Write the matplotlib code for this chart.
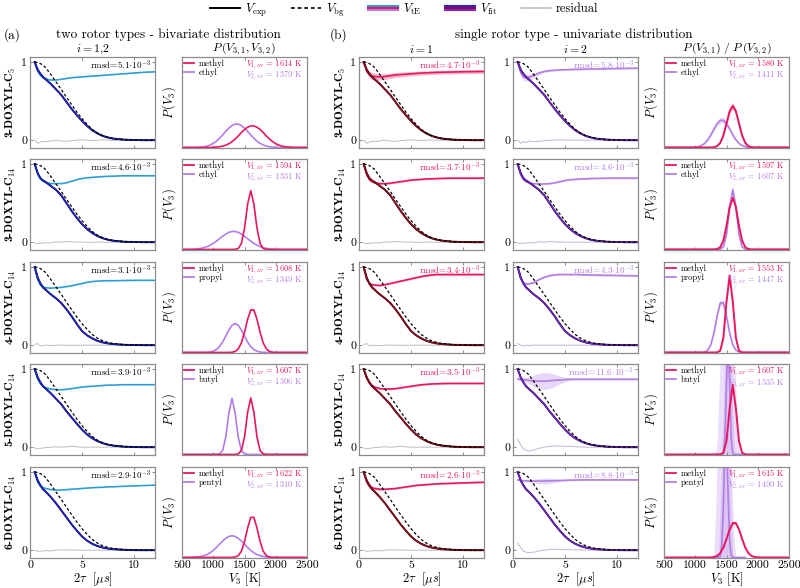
import matplotlib
matplotlib.use("Agg")

import matplotlib.pyplot as plt
import numpy as np
from matplotlib.legend_handler import HandlerBase
from matplotlib.lines import Line2D

plt.rcParams.update({
    "font.family": ["cmr10", "DejaVu Serif"],
    "mathtext.fontset": "cm",
    "axes.unicode_minus": False,
    "axes.formatter.use_mathtext": True,
})

# ---- data ------------------------------------------------------------------
ROW_LABELS = ["3-DOXYL-C$_\\mathbf{5}$", "3-DOXYL-C$_\\mathbf{14}$", "4-DOXYL-C$_\\mathbf{14}$",
              "5-DOXYL-C$_\\mathbf{14}$", "6-DOXYL-C$_\\mathbf{14}$"]
OTHER = ["ethyl", "ethyl", "propyl", "butyl", "pentyl"]
RMSD_A = [5.1, 4.6, 3.1, 3.9, 2.9]
RMSD_B1 = [4.7, 3.7, 3.4, 3.5, 2.6]
RMSD_B2 = [5.8, 4.6, 4.3, 11.6, 8.8]
V1_A = [1614, 1594, 1608, 1607, 1622]
V2_A = [1379, 1331, 1349, 1306, 1310]
V1_B = [1580, 1597, 1553, 1607, 1615]
V2_B = [1411, 1607, 1447, 1535, 1490]

# time axis (2 tau, us)
T_US = [0.45, 0.75, 1.0, 1.25, 1.5, 2.0, 2.5, 3.0, 3.5, 4.0, 4.5, 5.0, 5.5, 6.0, 6.5,
        7.0, 7.5, 8.0, 9.0, 10.0, 11.0, 12.0]

VBG = [1.0, 0.995, 0.98, 0.96, 0.93, 0.84, 0.745, 0.65, 0.55, 0.455, 0.36, 0.275, 0.2,
       0.135, 0.088, 0.055, 0.034, 0.02, 0.007, 0.002, 0.0, 0.0]

VEXP = [
    [1.0, 0.9, 0.85, 0.81, 0.78, 0.72, 0.65, 0.58, 0.49, 0.40, 0.32, 0.245, 0.18, 0.125,
     0.085, 0.054, 0.034, 0.02, 0.007, 0.002, 0.0, 0.0],
    [1.0, 0.88, 0.82, 0.79, 0.77, 0.72, 0.67, 0.60, 0.50, 0.40, 0.31, 0.23, 0.165, 0.115,
     0.077, 0.05, 0.031, 0.019, 0.006, 0.002, 0.0, 0.0],
    [1.0, 0.86, 0.79, 0.74, 0.71, 0.65, 0.60, 0.54, 0.46, 0.37, 0.27, 0.18, 0.125, 0.085,
     0.055, 0.035, 0.022, 0.014, 0.005, 0.002, 0.0, 0.0],
    [1.0, 0.89, 0.83, 0.78, 0.75, 0.69, 0.62, 0.55, 0.46, 0.38, 0.30, 0.225, 0.16, 0.112,
     0.076, 0.05, 0.032, 0.02, 0.007, 0.002, 0.0, 0.0],
    [1.0, 0.89, 0.83, 0.78, 0.75, 0.68, 0.60, 0.51, 0.42, 0.33, 0.25, 0.175, 0.12, 0.08,
     0.052, 0.033, 0.021, 0.013, 0.005, 0.001, 0.0, 0.0],
]

# intramolecular form factor, panel (a)
VTE_A = [
    [1.0, 0.88, 0.83, 0.80, 0.785, 0.77, 0.77, 0.78, 0.79, 0.80, 0.805, 0.81, 0.815, 0.82,
     0.825, 0.83, 0.835, 0.84, 0.85, 0.86, 0.87, 0.875],
    [1.0, 0.87, 0.81, 0.78, 0.765, 0.75, 0.75, 0.75, 0.76, 0.78, 0.80, 0.815, 0.825, 0.83,
     0.835, 0.84, 0.843, 0.845, 0.85, 0.85, 0.85, 0.85],
    [1.0, 0.84, 0.77, 0.745, 0.735, 0.73, 0.735, 0.74, 0.75, 0.76, 0.775, 0.79, 0.805, 0.815,
     0.82, 0.825, 0.825, 0.825, 0.828, 0.83, 0.83, 0.83],
    [1.0, 0.87, 0.81, 0.78, 0.76, 0.745, 0.735, 0.735, 0.74, 0.75, 0.76, 0.77, 0.775, 0.78,
     0.785, 0.79, 0.795, 0.795, 0.80, 0.80, 0.80, 0.80],
    [1.0, 0.87, 0.82, 0.80, 0.79, 0.775, 0.77, 0.77, 0.775, 0.78, 0.785, 0.79, 0.795, 0.80,
     0.803, 0.806, 0.81, 0.812, 0.818, 0.823, 0.828, 0.833],
]
# panel (b), i = 1
VTE_B1 = [
    [1.0, 0.88, 0.84, 0.82, 0.815, 0.81, 0.815, 0.825, 0.835, 0.84, 0.845, 0.85, 0.855, 0.86,
     0.862, 0.865, 0.868, 0.87, 0.873, 0.876, 0.878, 0.88],
    [1.0, 0.86, 0.80, 0.775, 0.76, 0.75, 0.75, 0.755, 0.765, 0.775, 0.785, 0.795, 0.80, 0.805,
     0.81, 0.812, 0.815, 0.817, 0.82, 0.82, 0.82, 0.82],
    [1.0, 0.84, 0.79, 0.775, 0.77, 0.765, 0.775, 0.79, 0.805, 0.82, 0.835, 0.85, 0.865, 0.88,
     0.89, 0.90, 0.905, 0.905, 0.905, 0.905, 0.905, 0.905],
    [1.0, 0.88, 0.82, 0.79, 0.77, 0.75, 0.745, 0.745, 0.75, 0.76, 0.77, 0.78, 0.79, 0.80,
     0.805, 0.81, 0.812, 0.815, 0.817, 0.817, 0.817, 0.817],
    [1.0, 0.87, 0.82, 0.80, 0.79, 0.78, 0.78, 0.785, 0.79, 0.80, 0.81, 0.82, 0.83, 0.835,
     0.84, 0.845, 0.85, 0.852, 0.857, 0.862, 0.866, 0.87],
]
# panel (b), i = 2
VTE_B2 = [
    [1.0, 0.86, 0.81, 0.80, 0.805, 0.83, 0.86, 0.88, 0.89, 0.895, 0.90, 0.902, 0.905, 0.907,
     0.908, 0.91, 0.911, 0.912, 0.915, 0.918, 0.92, 0.922],
    [1.0, 0.86, 0.80, 0.775, 0.76, 0.75, 0.745, 0.745, 0.75, 0.76, 0.775, 0.79, 0.80, 0.805,
     0.81, 0.812, 0.815, 0.817, 0.82, 0.82, 0.82, 0.82],
    [1.0, 0.86, 0.80, 0.785, 0.785, 0.80, 0.84, 0.87, 0.89, 0.90, 0.905, 0.905, 0.905, 0.905,
     0.903, 0.90, 0.898, 0.897, 0.895, 0.893, 0.89, 0.888],
    [0.875, 0.87, 0.865, 0.86, 0.855, 0.85, 0.845, 0.845, 0.85, 0.855, 0.86, 0.865, 0.87, 0.87,
     0.87, 0.87, 0.87, 0.87, 0.87, 0.87, 0.87, 0.87],
    [0.90, 0.895, 0.89, 0.888, 0.885, 0.885, 0.885, 0.885, 0.887, 0.89, 0.892, 0.895, 0.897,
     0.898, 0.90, 0.90, 0.90, 0.90, 0.90, 0.90, 0.90, 0.90],
]
# half-width of the shaded V_tE uncertainty
BAND_B1 = [
    [0.0, 0.03, 0.045, 0.045, 0.045, 0.04, 0.038, 0.035, 0.032, 0.03, 0.03, 0.028, 0.027,
     0.026, 0.025, 0.025, 0.025, 0.025, 0.025, 0.025, 0.025, 0.025],
    [0.0, 0.015, 0.015] + [0.01] * 19,
    [0.0, 0.015, 0.015] + [0.012] * 19,
    [0.0, 0.015, 0.015] + [0.01] * 19,
    [0.0, 0.03, 0.03, 0.025, 0.02, 0.015, 0.012] + [0.01] * 15,
]
BAND_B2 = [
    [0.0, 0.04, 0.045, 0.045, 0.04, 0.03, 0.02, 0.012] + [0.01] * 14,
    [0.0] + [0.01] * 21,
    [0.0, 0.02, 0.02, 0.015, 0.015, 0.012] + [0.01] * 16,
    [0.02, 0.02, 0.025, 0.03, 0.04, 0.07, 0.10, 0.11, 0.10, 0.08, 0.05, 0.03, 0.015] + [0.01] * 9,
    [0.01, 0.01, 0.01, 0.012, 0.015, 0.025, 0.035, 0.038, 0.035, 0.025, 0.015, 0.01] + [0.008] * 10,
]

RES = [
    [0.0, -0.04, -0.025, -0.015, -0.02, -0.01, 0.0, -0.01, -0.015, -0.005, 0.0, 0.005, 0.0,
     -0.005, 0.0, 0.003, 0.0, -0.003, 0.0, 0.002, 0.0, 0.0],
    [-0.01, -0.02, -0.01, -0.015, -0.005, -0.01, 0.005, 0.0, 0.01, 0.005, 0.0, 0.002, -0.003,
     0.0, 0.002, 0.0, -0.002, 0.0, 0.0, 0.0, 0.0, 0.0],
    [0.01, 0.02, -0.01, -0.005, 0.0, -0.005, 0.0, 0.002, 0.0, -0.003] + [0.0] * 12,
    [-0.01, -0.02, -0.015, -0.01, -0.005, 0.0, 0.005, 0.0, 0.005, 0.01, 0.005] + [0.0] * 11,
    [0.0, -0.015, -0.01, -0.012, -0.005, -0.01, 0.0, 0.005, 0.0, 0.003] + [0.0] * 12,
]
RES_B2 = [
    [0.0, -0.04, -0.02, -0.03, -0.01, -0.02, -0.015, -0.005, 0.0, 0.0, 0.005] + [0.0] * 11,
    [-0.01, -0.02, -0.01, -0.015, -0.005, -0.01, 0.005, 0.0, 0.01, 0.005] + [0.0] * 12,
    [0.02, 0.0, -0.01, 0.0, -0.005] + [0.0] * 17,
    [0.1, 0.03, -0.02, -0.04, -0.05, -0.035, -0.015, 0.0, 0.01, 0.015, 0.015, 0.01, 0.01,
     0.005, 0.005] + [0.0] * 7,
    [0.09, 0.03, -0.01, -0.025, -0.03, -0.025, -0.01, 0.0, 0.01, 0.012, 0.01, 0.008, 0.005,
     0.005, 0.003] + [0.0] * 7,
]

# rotor barrier distributions, V3 grid 500..2500 K
V3 = list(range(500, 2501, 50))
V3_FINE = list(range(1300, 1801, 25))

P_A_METHYL = [
    [0] * 10 + [0.002, 0.004, 0.008, 0.014, 0.025, 0.041, 0.064, 0.093, 0.127, 0.164, 0.198,
                0.224, 0.238, 0.238, 0.224, 0.198, 0.164, 0.127, 0.093, 0.064, 0.041, 0.025,
                0.014, 0.008, 0.004, 0.002] + [0] * 5,
    [0] * 17 + [0.001, 0.011, 0.065, 0.235, 0.50, 0.65, 0.50, 0.235, 0.065, 0.011, 0.001] + [0] * 13,
    [0] * 16 + [0.002, 0.011, 0.039, 0.105, 0.222, 0.366, 0.47, 0.47, 0.366, 0.222, 0.105,
                0.039, 0.011, 0.002] + [0] * 11,
    [0] * 18 + [0.006, 0.043, 0.191, 0.465, 0.625, 0.465, 0.191, 0.043, 0.006] + [0] * 14,
    [0] * 17 + [0.004, 0.020, 0.069, 0.175, 0.325, 0.443, 0.443, 0.325, 0.175, 0.069, 0.020,
                0.004] + [0] * 12,
]
P_A_OTHER = [
    [0] * 5 + [0.002, 0.004, 0.008, 0.015, 0.027, 0.045, 0.069, 0.101, 0.138, 0.177, 0.214,
               0.242, 0.258, 0.258, 0.242, 0.214, 0.177, 0.138, 0.101, 0.069, 0.045, 0.027,
               0.015, 0.008, 0.004, 0.002] + [0] * 10,
    [0] * 2 + [0.001, 0.002, 0.004, 0.007, 0.012, 0.019, 0.031, 0.047, 0.067, 0.092, 0.119,
               0.146, 0.170, 0.189, 0.199, 0.199, 0.189, 0.170, 0.146, 0.119, 0.092, 0.067,
               0.047, 0.031, 0.019, 0.012, 0.007, 0.004, 0.002, 0.001] + [0] * 9,
    [0] * 7 + [0.001, 0.002, 0.005, 0.014, 0.032, 0.065, 0.115, 0.18, 0.248, 0.30, 0.32, 0.30,
               0.248, 0.18, 0.115, 0.065, 0.032, 0.014, 0.005, 0.002, 0.001] + [0] * 13,
    [0] * 12 + [0.006, 0.043, 0.19, 0.461, 0.62, 0.461, 0.19, 0.043, 0.006] + [0] * 20,
    [0] * 2 + [0.0005, 0.001, 0.003, 0.006, 0.011, 0.019, 0.032, 0.052, 0.078, 0.110, 0.146,
               0.181, 0.212, 0.233, 0.24, 0.233, 0.212, 0.181, 0.146, 0.110, 0.078, 0.052,
               0.032, 0.019, 0.011, 0.006, 0.003, 0.001, 0.0005] + [0] * 10,
]
P_B_METHYL = [
    [0] * 15 + [0.0005, 0.003, 0.014, 0.051, 0.132, 0.265, 0.40, 0.46, 0.40, 0.265, 0.132,
                0.051, 0.014, 0.003, 0.0005] + [0] * 11,
    [0] * 17 + [0.005, 0.025, 0.098, 0.261, 0.469, 0.57, 0.469, 0.261, 0.098, 0.025, 0.005] + [0] * 13,
    [0] * 17 + [0.001, 0.020, 0.162, 0.563, 0.85, 0.563, 0.162, 0.020, 0.001] + [0] * 15,
    [0] * 18 + [0.001, 0.018, 0.147, 0.51, 0.77, 0.51, 0.147, 0.018, 0.001] + [0] * 14,
    [0] * 15 + [0.001, 0.005, 0.017, 0.048, 0.110, 0.204, 0.309, 0.38, 0.38, 0.309, 0.204,
                0.110, 0.048, 0.017, 0.005, 0.001] + [0] * 10,
]
# rows 1-3 on V3, rows 4-5 (narrow) on V3_FINE
P_B_OTHER = [
    [0] * 9 + [0.001, 0.003, 0.009, 0.021, 0.045, 0.084, 0.14, 0.205, 0.264, 0.30, 0.30,
               0.264, 0.205, 0.14, 0.084, 0.045, 0.021, 0.009, 0.003, 0.001] + [0] * 12,
    [0] * 18 + [0.003, 0.029, 0.165, 0.467, 0.66, 0.467, 0.165, 0.029, 0.003] + [0] * 14,
    [0] * 13 + [0.005, 0.025, 0.086, 0.217, 0.403, 0.548, 0.548, 0.403, 0.217, 0.086, 0.025,
                0.005] + [0] * 16,
    [0] * 6 + [0.014, 0.176, 0.79, 1.3, 0.79, 0.176, 0.014] + [0] * 8,
    [0] * 4 + [0.015, 0.133, 0.574, 1.23, 1.32, 0.707, 0.19, 0.025, 0.001] + [0] * 8,
]
# relative spread of the shaded distributions (rows 1-3)
P_B_SPREAD_M = [0.08, 0.04, 0.05, 0.05, 0.05]
P_B_SPREAD_O = [0.10, 0.08, 0.05, 0.0, 0.0]
# broad uncertainty envelopes of the narrow distributions (rows 4-5, V3_FINE)
P_B_ENV_OUTER = {
    3: [0, 0.02, 0.15, 0.6, 1.1, 1.1, 1.1, 1.1, 1.1, 1.1, 1.1, 1.1, 1.1, 1.1, 0.7, 0.25, 0.05,
        0, 0, 0, 0],
    4: [0.1, 0.5, 1.1, 1.1, 1.1, 1.1, 1.1, 1.1, 1.1, 1.1, 1.1, 1.1, 0.6, 0.15, 0.02, 0, 0, 0,
        0, 0, 0],
}
P_B_ENV_INNER = {
    3: [0, 0, 0, 0, 0, 0.05, 0.5, 1.1, 1.1, 1.1, 1.1, 1.1, 0.5, 0.05, 0, 0, 0, 0, 0, 0, 0],
    4: [0, 0, 0, 0.05, 0.6, 1.1, 1.1, 1.1, 1.1, 1.1, 1.1, 0.4, 0.05, 0, 0, 0, 0, 0, 0, 0, 0],
}

# ---- styling ---------------------------------------------------------------
CYAN = "#2a9fd6"
BLUE = "#2222e0"
PINK = "#e8175d"
DARKRED = "#9e0a1e"
LAV = "#b27ee6"
PURPLE = "#7b22e0"
GREY = "#bdbdc8"
SPINE = "#8c8c8c"

COL_X = [30, 182, 359, 513, 664]
ROW_Y = [57, 159, 262, 364, 467]
W, H = 125, 91
FW, FH = 800, 588

fig = plt.figure(figsize=(FW / 100, FH / 100), dpi=100)


def make_ax(col, row):
    ax = fig.add_axes([COL_X[col] / FW, 1 - (ROW_Y[row] + H) / FH, W / FW, H / FH])
    for s in ax.spines.values():
        s.set_color(SPINE)
        s.set_linewidth(0.9)
    ax.tick_params(direction="in", top=True, right=True, length=2.5, width=0.7,
                   color=SPINE, labelsize=8.5, pad=2)
    return ax


def time_panel(ax, row, vte, band, te_col, fit_col, res, res_col, rmsd, rmsd_col):
    t = np.array(T_US)
    vte = np.array(vte)
    if band is not None:
        b = np.array(band)
        ax.fill_between(t, vte - b, vte + b, color=te_col, alpha=0.3, lw=0)
    ax.plot(t, res, color=res_col, lw=0.7)
    ax.plot(t, vte, color=te_col, lw=1.2)
    ax.plot(t, VEXP[row], color="k", lw=1.4)
    ax.plot(t, VEXP[row], color=fit_col, lw=1.0)
    ax.plot(t, VBG, color="k", lw=0.9, ls=(0, (2.2, 1.8)))
    ax.set_xlim(0, 12)
    ax.set_ylim(-0.1, 1.065)
    ax.set_xticks([0, 5, 10])
    ax.set_yticks([0, 1])
    ax.set_yticklabels(["0", "1"])
    if row == 4:
        ax.set_xticklabels(["0", "5", "10"])
        ax.set_xlabel(r"$2\tau\ \ [\mu s]$", fontsize=9, labelpad=0)
    else:
        ax.set_xticklabels([])
    ax.text(0.965, 0.905, r"$\mathrm{rmsd}\!=\!%.1f\!\cdot\!10^{-3}$" % rmsd,
            transform=ax.transAxes, ha="right", va="center", fontsize=6.5, color=rmsd_col)


def dist_panel(ax, row, other, v1, v2):
    ax.set_xlim(500, 2500)
    ax.set_ylim(-0.006, 1.0)
    ax.set_xticks([500, 1000, 1500, 2000, 2500])
    ax.set_yticks([])
    if row == 4:
        ax.set_xticklabels(["500", "1000", "1500", "2000", "2500"])
        ax.set_xlabel(r"$V_3$ [K]", fontsize=9, labelpad=0)
    else:
        ax.set_xticklabels([])
    ax.set_ylabel(r"$P\,(V_3)$", fontsize=9, labelpad=3)
    h = [Line2D([], [], color=PINK, lw=1.3), Line2D([], [], color=LAV, lw=1.3)]
    ax.legend(h, ["methyl", other], loc="upper left", frameon=False, fontsize=6.2,
              handlelength=1.2, handletextpad=0.5, labelspacing=0.1,
              borderaxespad=0.1, borderpad=0.15)
    ax.text(0.965, 0.92, r"$V_{1,\mathrm{av}}$ = %d K" % v1, transform=ax.transAxes,
            ha="right", va="center", fontsize=6.0, color=PINK)
    ax.text(0.965, 0.79, r"$V_{2,\mathrm{av}}$ = %d K" % v2, transform=ax.transAxes,
            ha="right", va="center", fontsize=6.0, color=LAV)


for r in range(5):
    # (a) bivariate fit, i = 1,2
    ax = make_ax(0, r)
    time_panel(ax, r, VTE_A[r], None, CYAN, BLUE, RES[r], GREY, RMSD_A[r], "k")
    ax = make_ax(1, r)
    dist_panel(ax, r, OTHER[r], V1_A[r], V2_A[r])
    ax.plot(V3, P_A_OTHER[r], color=LAV, lw=1.2)
    ax.plot(V3, P_A_METHYL[r], color=PINK, lw=1.2)

    # (b) univariate fits
    ax = make_ax(2, r)
    time_panel(ax, r, VTE_B1[r], BAND_B1[r], PINK, DARKRED, RES[r], GREY, RMSD_B1[r], PINK)
    ax = make_ax(3, r)
    time_panel(ax, r, VTE_B2[r], BAND_B2[r], LAV, PURPLE, RES_B2[r], "#c2b6d8",
               RMSD_B2[r], LAV)
    ax = make_ax(4, r)
    dist_panel(ax, r, OTHER[r], V1_B[r], V2_B[r])
    ym = np.array(P_B_METHYL[r])
    yo = np.array(P_B_OTHER[r])
    xo = V3 if len(yo) == len(V3) else V3_FINE
    if r in P_B_ENV_OUTER:
        ax.fill_between(V3_FINE, 0, P_B_ENV_OUTER[r], color=LAV, alpha=0.25, lw=0)
        ax.fill_between(V3_FINE, 0, P_B_ENV_INNER[r], color=LAV, alpha=0.25, lw=0)
    else:
        so = P_B_SPREAD_O[r]
        ax.fill_between(xo, yo * (1 - so), yo * (1 + so), color=LAV, alpha=0.35, lw=0)
    sm = P_B_SPREAD_M[r]
    ax.fill_between(V3, ym * (1 - sm), ym * (1 + sm), color=PINK, alpha=0.3, lw=0)
    ax.plot(xo, yo, color=LAV, lw=1.2)
    ax.plot(V3, ym, color=PINK, lw=1.4)

# column titles
TITLES = [r"$i=1{,}2$", r"$P\,(V_{3,1},V_{3,2})$", r"$i=1$", r"$i=2$",
          r"$P\,(V_{3,1})\ /\ P\,(V_{3,2})$"]
for c, title in enumerate(TITLES):
    fig.text((COL_X[c] + W / 2) / FW, 1 - 49 / FH, title, ha="center", va="center",
             fontsize=8.5)

# row labels
for r, lab in enumerate(ROW_LABELS):
    yc = 1 - (ROW_Y[r] + H / 2) / FH
    for x in (11, 341):
        fig.text(x / FW, yc, lab, rotation=90, ha="center", va="center", fontsize=8.5,
                 family=["cmb10", "DejaVu Serif"])

# panel headers
HEAD_Y = 1 - 35 / FH
fig.text(4 / FW, HEAD_Y, "(a)", ha="left", va="center", fontsize=9.5)
fig.text((COL_X[0] + COL_X[1] + W) / 2 / FW, HEAD_Y,
         "two rotor types - bivariate distribution", ha="center", va="center", fontsize=9.5)
fig.text(330 / FW, HEAD_Y, "(b)", ha="left", va="center", fontsize=9.5)
fig.text((COL_X[2] + COL_X[4] + W) / 2 / FW, HEAD_Y,
         "single rotor type - univariate distribution", ha="center", va="center",
         fontsize=9.5)


# figure legend with stacked colour samples for V_tE and V_fit
class HandlerStack(HandlerBase):
    def __init__(self, colors, **kw):
        super().__init__(**kw)
        self.colors = colors

    def create_artists(self, legend, orig_handle, xdescent, ydescent, width, height,
                       fontsize, trans):
        arts = []
        for k, c in enumerate(self.colors):
            y = -ydescent + height * (0.75 - 0.25 * k)
            arts.append(Line2D([-xdescent, -xdescent + width], [y, y], color=c, lw=1.5,
                               transform=trans))
        return arts


h_exp = Line2D([], [], color="k", lw=1.4)
h_bg = Line2D([], [], color="k", lw=1.2, ls=(0, (2.2, 1.8)))
h_te = Line2D([], [], color=CYAN)
h_fit = Line2D([], [], color=BLUE)
h_res = Line2D([], [], color=GREY, lw=1.2)
fig.legend([h_exp, h_bg, h_te, h_fit, h_res],
           [r"$V_\mathrm{exp}$", r"$V_\mathrm{bg}$", r"$V_\mathrm{tE}$", r"$V_\mathrm{fit}$",
            "residual"],
           loc="center", bbox_to_anchor=(0.505, 1 - 10 / FH), ncol=5, frameon=False,
           fontsize=9, handlelength=2.4, columnspacing=1.9, handletextpad=0.4,
           handler_map={h_te: HandlerStack([CYAN, PINK, LAV]),
                        h_fit: HandlerStack([BLUE, DARKRED, PURPLE])})

fig.savefig("out.png", dpi=100)
